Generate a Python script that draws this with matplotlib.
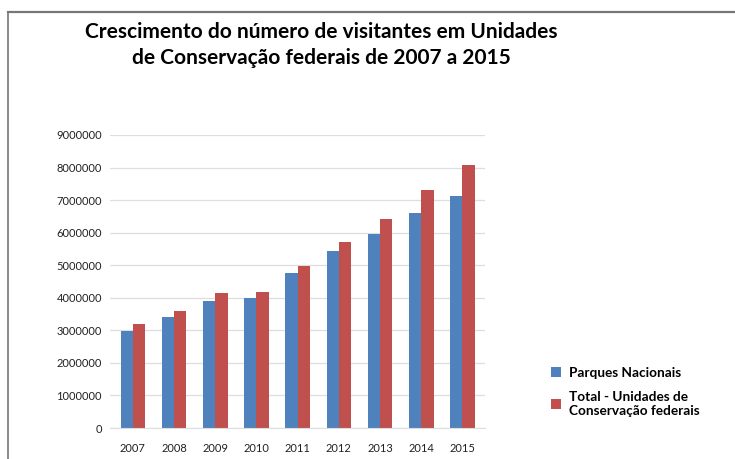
import matplotlib
matplotlib.use("Agg")
import matplotlib.pyplot as plt
from matplotlib.lines import Line2D
import numpy as np

plt.rcParams["font.family"] = ["Lato", "DejaVu Sans"]

# dados
anos = ["2007", "2008", "2009", "2010", "2011", "2012", "2013", "2014", "2015"]
parques = [2980000, 3410000, 3910000, 3980000, 4770000, 5440000, 5950000, 6590000, 7140000]
total_uc = [3190000, 3600000, 4150000, 4180000, 4970000, 5710000, 6410000, 7310000, 8090000]
yticks = list(range(0, 9000001, 1000000))

fig = plt.figure(figsize=(7.35, 4.59), dpi=100)
ax = fig.add_axes([0.150, 0.0675, 0.510, 0.6385])

x = np.arange(len(anos))
w = 0.3
ax.bar(x - w / 2, parques, w, color="#4F81BD", label="Parques Nacionais")
ax.bar(x + w / 2, total_uc, w, color="#C0504D",
       label="Total - Unidades de\nConservação federais")

ax.set_xlim(-0.55, len(anos) - 0.45)
ax.set_ylim(0, 9000000)
ax.set_yticks(yticks)
ax.set_yticklabels([str(v) for v in yticks], fontsize=8, color="#222222")
ax.set_xticks(x)
ax.set_xticklabels(anos, fontsize=8, color="#222222")
ax.tick_params(axis="y", length=0, pad=6)
ax.tick_params(axis="x", length=0, pad=11)
ax.grid(axis="y", color="#dedede", linewidth=0.9)
ax.set_axisbelow(True)
for s in ["top", "right", "left"]:
    ax.spines[s].set_visible(False)
ax.spines["bottom"].set_color("#dedede")

fig.text(0.437, 0.902, "Crescimento do número de visitantes em Unidades\nde Conservação federais de 2007 a 2015",
         ha="center", va="center", fontsize=15, fontweight="bold", linespacing=1.4)

leg = fig.legend(loc="upper left", bbox_to_anchor=(0.733, 0.228), frameon=False,
                 prop={"size": 9.8, "weight": "bold"}, handlelength=0.75, handleheight=0.75,
                 handletextpad=0.6, labelspacing=0.9)

# moldura (linha superior e esquerda)
fig.add_artist(Line2D([8 / 735, 8 / 735], [0, 1 - 12 / 459], color="#777777", lw=1.2))
fig.add_artist(Line2D([8 / 735, 1], [1 - 12 / 459, 1 - 12 / 459], color="#777777", lw=1.6))

fig.savefig("out.png", dpi=100)
